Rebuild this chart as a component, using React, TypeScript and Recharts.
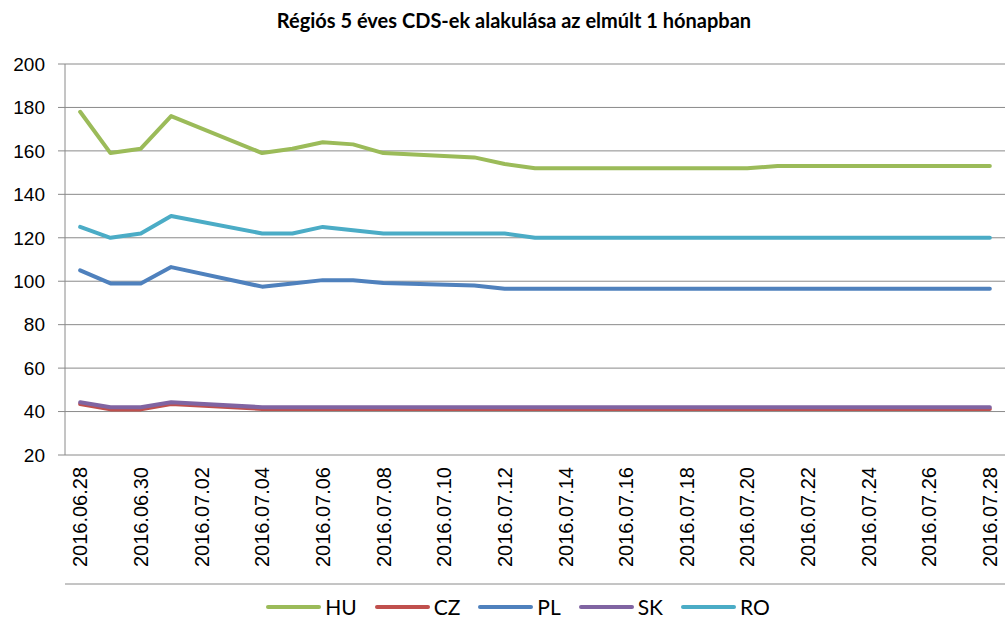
import { CartesianGrid, Legend, Line, LineChart, XAxis, YAxis } from "recharts";

const dates = [
  "2016.06.28", "2016.06.29", "2016.06.30", "2016.07.01",
  "2016.07.04", "2016.07.05", "2016.07.06", "2016.07.07", "2016.07.08",
  "2016.07.11", "2016.07.12", "2016.07.13", "2016.07.14", "2016.07.15",
  "2016.07.18", "2016.07.19", "2016.07.20", "2016.07.21", "2016.07.22",
  "2016.07.25", "2016.07.26", "2016.07.27", "2016.07.28",
];

const hu = [178, 159, 161, 176, 159, 161, 164, 163, 159, 157, 154, 152, 152, 152, 152, 152, 152, 153, 153, 153, 153, 153, 153];
const cz = [43.5, 41, 41, 43.5, 41.2, 41.2, 41.2, 41.2, 41.2, 41.2, 41.2, 41.2, 41.2, 41.2, 41.2, 41.2, 41.2, 41.2, 41.2, 41.2, 41.2, 41.2, 41.2];
const pl = [105, 99, 99, 106.5, 97.5, 99, 100.5, 100.5, 99.2, 98, 96.5, 96.5, 96.5, 96.5, 96.5, 96.5, 96.5, 96.5, 96.5, 96.5, 96.5, 96.5, 96.5];
const sk = [44.3, 42, 42, 44.3, 42, 42, 42, 42, 42, 42, 42, 42, 42, 42, 42, 42, 42, 42, 42, 42, 42, 42, 42];
const ro = [125, 120, 122, 130, 122, 122, 125, 123.5, 122, 122, 122, 120, 120, 120, 120, 120, 120, 120, 120, 120, 120, 120, 120];

const tickDates = [
  "2016.06.28", "2016.06.30", "2016.07.02", "2016.07.04", "2016.07.06", "2016.07.08",
  "2016.07.10", "2016.07.12", "2016.07.14", "2016.07.16", "2016.07.18", "2016.07.20",
  "2016.07.22", "2016.07.24", "2016.07.26", "2016.07.28",
];
const yTicks = [20, 40, 60, 80, 100, 120, 140, 160, 180, 200];

const series = [
  { name: "HU", color: "#9BBB59", values: hu },
  { name: "CZ", color: "#C0504D", values: cz },
  { name: "PL", color: "#4F81BD", values: pl },
  { name: "SK", color: "#8064A2", values: sk },
  { name: "RO", color: "#4BACC6", values: ro },
];

const title = "Régiós 5 éves CDS-ek alakulása az elmúlt 1 hónapban";

// days since first date, so weekends leave gaps on the axis
const dayOf = (d: string) => {
  const [y, m, dd] = d.split(".").map(Number);
  return (Date.UTC(y, m - 1, dd) - Date.UTC(2016, 5, 28)) / 86400000;
};

const data = dates.map((d, i) => {
  const row: Record<string, number> = { day: dayOf(d) };
  series.forEach((s) => (row[s.name] = s.values[i]));
  return row;
});

const labelTicks = tickDates.map(dayOf);
// excel puts tick marks between the day slots
const markTicks = labelTicks.map((t) => t - 0.5);
const labelFor = new Map(tickDates.map((d) => [dayOf(d), d]));

const gridColor = "#8a8a8a";
const axisFont = "'Liberation Sans', Arial, sans-serif";
const textFont = "Lato, 'Open Sans', sans-serif";

function DateTick({ x, y, payload }: any) {
  return (
    <text
      x={x}
      y={y}
      dy="0.36em"
      transform={`rotate(-90, ${x}, ${y})`}
      textAnchor="end"
      fontSize={20}
      fontFamily={axisFont}
      fill="#000"
    >
      {labelFor.get(payload.value) ?? ""}
    </text>
  );
}

function renderLegend() {
  return (
    <div
      style={{
        height: 37,
        display: "flex",
        justifyContent: "center",
        alignItems: "center",
        paddingLeft: 30,
        paddingTop: 6,
        boxSizing: "border-box",
        fontFamily: textFont,
        fontSize: 21,
        color: "#000",
      }}
    >
      {series.map((s, i) => (
        <div
          key={s.name}
          style={{ display: "flex", alignItems: "center", marginRight: i < series.length - 1 ? 18 : 0 }}
        >
          <svg width={55} height={8} style={{ marginRight: 4 }}>
            <line x1={2} y1={4} x2={53} y2={4} stroke={s.color} strokeWidth={4} strokeLinecap="round" />
          </svg>
          <span>{s.name}</span>
        </div>
      ))}
    </div>
  );
}

export default function App() {
  return (
    <div style={{ position: "absolute", left: 0, top: 0, width: 1006, height: 622, background: "#fff" }}>
      <div
        style={{
          position: "absolute",
          top: 8,
          left: 11,
          width: 1006,
          textAlign: "center",
          fontFamily: textFont,
          fontWeight: 700,
          fontSize: 20,
          color: "#000",
        }}
      >
        {title}
      </div>
      <LineChart width={1006} height={622} data={data} margin={{ top: 64, right: 1, left: 0, bottom: 0 }}>
        <CartesianGrid horizontal vertical={false} stroke={gridColor} xAxisId="date" />
        <XAxis
          xAxisId="marks"
          dataKey="day"
          type="number"
          domain={[-0.5, 30.5]}
          ticks={markTicks}
          interval={0}
          height={1}
          tick={false}
          tickSize={6}
          stroke={gridColor}
          allowDataOverflow
        />
        <XAxis
          xAxisId="date"
          dataKey="day"
          type="number"
          domain={[-0.5, 30.5]}
          ticks={labelTicks}
          interval={0}
          height={129}
          axisLine={false}
          tickLine={false}
          tickSize={0}
          tickMargin={12}
          tick={<DateTick />}
          allowDataOverflow
        />
        <YAxis
          domain={[20, 200]}
          ticks={yTicks}
          interval={0}
          width={65}
          stroke={gridColor}
          tickSize={7}
          tickMargin={13}
          tick={{ fontSize: 19, fill: "#000", fontFamily: axisFont }}
        />
        <Legend verticalAlign="bottom" content={renderLegend} wrapperStyle={{ left: 0, width: 1006, height: 37 }} />
        {series.map((s) => (
          <Line
            key={s.name}
            xAxisId="date"
            type="linear"
            dataKey={s.name}
            stroke={s.color}
            strokeWidth={4}
            strokeLinejoin="round"
            strokeLinecap="round"
            dot={false}
            activeDot={false}
            isAnimationActive={false}
          />
        ))}
      </LineChart>
    </div>
  );
}
